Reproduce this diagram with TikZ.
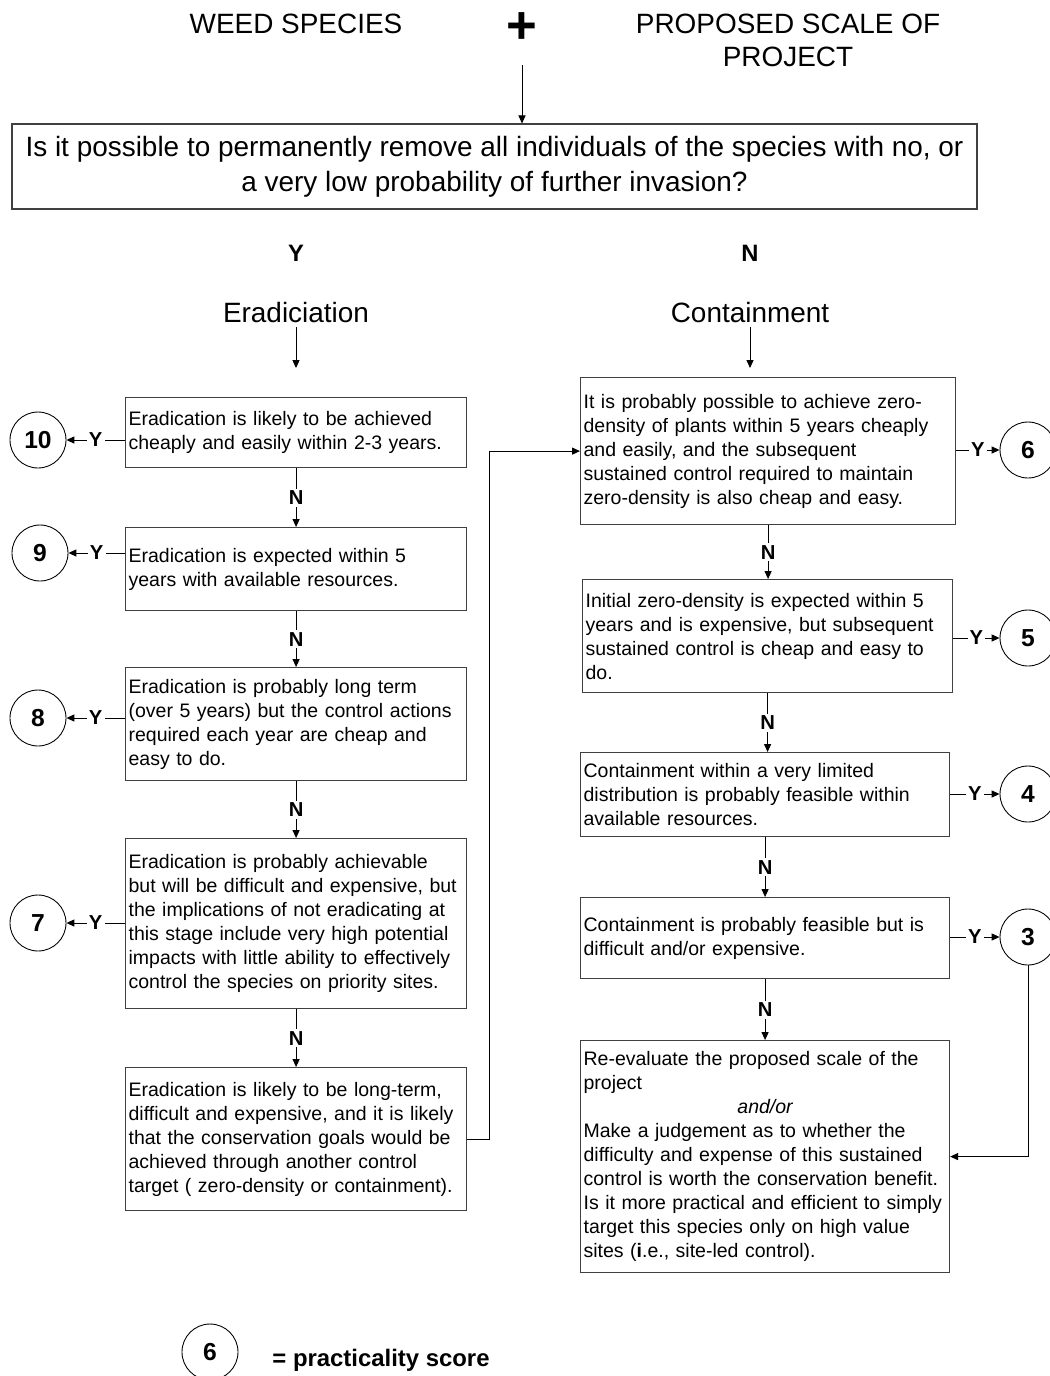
\documentclass[tikz,border=0pt]{standalone}
\usepackage{fontspec}
\setmainfont{Liberation Sans}
\usetikzlibrary{arrows.meta}
\hyphenpenalty=10000
\exhyphenpenalty=10000
\newcommand{\pix}{0.02cm}
\newcommand{\boxfont}{\fontsize{11.1}{13.66}\selectfont}
\newcommand{\headfont}{\fontsize{15.9}{18.8}\selectfont}

\begin{document}
\begin{tikzpicture}[x=\pix, y=-\pix, line width=0.5pt, >={Triangle[length=4.5pt,width=4pt]},
    head/.style={font=\headfont, align=center, inner sep=2pt},
    branch/.style={font=\bfseries\fontsize{13.5}{13.5}\selectfont},
    box/.style={draw=black!75, line width=0.7pt, rectangle, anchor=north west, align=left, inner xsep=0.06cm, inner ysep=0pt, font=\boxfont},
    score/.style={draw, circle, minimum size=1.12cm, inner sep=0pt, line width=0.5pt, font=\bfseries\fontsize{14}{14}\selectfont},
    yn/.style={fill=white, inner sep=1.2pt, font=\bfseries\fontsize{11.5}{12}\selectfont}]
    \useasboundingbox (0,0) rectangle (1050,1376);

    % Header
    \node[head] (weed) at (296,24) {WEED SPECIES};
    \node[font=\bfseries\fontsize{30}{30}\selectfont] (plus) at (522,28) {+};
    \node[head] (scale) at (788,40) {PROPOSED SCALE OF\\PROJECT};
    \coordinate (join) at (522,65);
    \node[draw=black!75, line width=0.7pt, minimum width=19.3cm, minimum height=1.7cm, align=center, font=\fontsize{15.9}{19.9}\selectfont] (quest) at (494.5,166.5) {Is it possible to permanently remove all individuals of the species with no, or\\a very low probability of further invasion?};
    \draw[->] (join) -- (join |- quest.north);

    \node[branch] (yes) at (296,253) {Y};
    \node[branch] (no) at (750,253) {N};
    \node[head] (erad) at (296,313) {Eradiciation};
    \node[head] (cont) at (750,313) {Containment};
    \coordinate (erad-end) at (296,368);
    \coordinate (cont-end) at (750,368);
    \draw[->] (erad) -- (erad-end);
    \draw[->] (cont) -- (cont-end);

    % Left column
    \node[box, text width=6.7cm, minimum height=1.4cm] (b10) at (125,397) {Eradication is likely to be achieved\\cheaply and easily within 2-3 years.};
    \node[box, text width=6.7cm, minimum height=1.66cm] (b9) at (125,527) {Eradication is expected within 5\\years with available resources.};
    \node[box, text width=6.7cm, minimum height=2.26cm] (b8) at (125,667) {Eradication is probably long term\\(over 5 years) but the control actions\\required each year are cheap and\\easy to do.};
    \node[box, text width=6.7cm, minimum height=3.4cm] (b7) at (125,838) {Eradication is probably achievable\\but will be difficult and expensive, but\\the implications of not eradicating at\\this stage include very high potential\\impacts with little ability to effectively\\control the species on priority sites.};
    \node[box, text width=6.7cm, minimum height=2.86cm] (bfin) at (125,1067) {Eradication is likely to be long-term,\\difficult and expensive, and it is likely\\that the conservation goals would be\\achieved through another control\\target ( zero-density or containment).};

    \node[score] (c10) at (38,440) {10};
    \node[score] (c9) at (40,553) {9};
    \node[score] (c8) at (38,718) {8};
    \node[score] (c7) at (38,923) {7};

    \draw[->] (b10.west |- c10) -- node[yn]{Y} (c10);
    \draw[->] (b9.west |- c9) -- node[yn]{Y} (c9);
    \draw[->] (b8.west |- c8) -- node[yn]{Y} (c8);
    \draw[->] (b7.west |- c7) -- node[yn]{Y} (c7);

    \draw[->] (b10) -- node[yn]{N} (b9);
    \draw[->] (b9) -- node[yn]{N} (b8);
    \draw[->] (b8) -- node[yn]{N} (b7);
    \draw[->] (b7) -- node[yn]{N} (bfin);

    % Right column
    \node[box, text width=7.38cm, minimum height=2.94cm] (r6) at (580,377) {It is probably possible to achieve zero-\\density of plants within 5 years cheaply\\and easily, and the subsequent\\sustained control required to maintain\\zero-density is also cheap and easy.};
    \node[box, text width=7.28cm, minimum height=2.26cm] (r5) at (582,579) {Initial zero-density is expected within 5\\years and is expensive, but subsequent\\sustained control is cheap and easy to\\do.};
    \node[box, text width=7.26cm, minimum height=1.68cm] (r4) at (580,752) {Containment within a very limited\\distribution is probably feasible within\\available resources.};
    \node[box, text width=7.26cm, minimum height=1.62cm] (r3) at (580,897) {Containment is probably feasible but is\\difficult and/or expensive.};
    \node[box, text width=7.26cm, minimum height=4.64cm] (rfin) at (580,1040) {Re-evaluate the proposed scale of the\\project\\\makebox[\linewidth]{\itshape and/or}\\Make a judgement as to whether the\\difficulty and expense of this sustained\\control is worth the conservation benefit.\\Is it more practical and efficient to simply\\target this species only on high value\\sites (\textbf{i}.e., site-led control).};

    \node[score] (c6) at (1028,450) {6};
    \node[score] (c5) at (1028,638) {5};
    \node[score] (c4) at (1028,794) {4};
    \node[score] (c3) at (1028,937) {3};

    \draw[->] (r6.east |- c6) -- node[yn]{Y} (c6);
    \draw[->] (r5.east |- c5) -- node[yn]{Y} (c5);
    \draw[->] (r4.east |- c4) -- node[yn]{Y} (c4);
    \draw[->] (r3.east |- c3) -- node[yn]{Y} (c3);

    \draw[->] (r6.south) -- node[yn]{N} (r6.south |- r5.north);
    \draw[->] (r5.south) -- node[yn]{N} (r5.south |- r4.north);
    \draw[->] (r4.south) -- node[yn]{N} (r4.south |- r3.north);
    \draw[->] (r3.south) -- node[yn]{N} (r3.south |- rfin.north);

    % Cross links
    \draw[->] (bfin.east) -- ++(22,0) |- (r6.west);
    \draw[->] (c3.south) |- (rfin.east);

    % Key
    \node[score] (key) at (210,1352) {6};
    \node[anchor=base west, inner sep=0pt, font=\bfseries\fontsize{13.6}{14}\selectfont] (keytext) at (272,1366) {= practicality score};

\end{tikzpicture}
\end{document}
